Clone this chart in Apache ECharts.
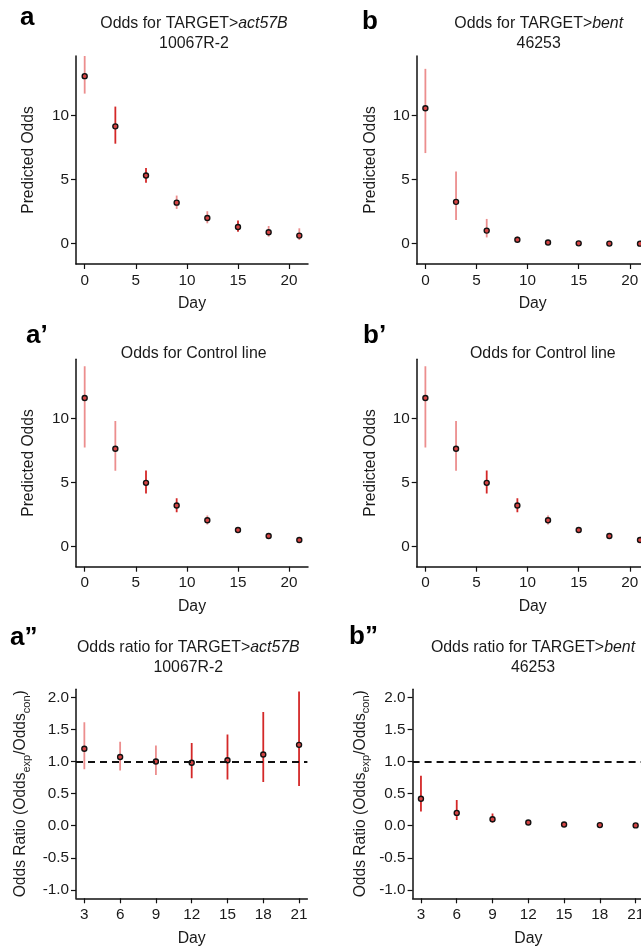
<!DOCTYPE html>
<html>
<head>
<meta charset="utf-8">
<script src="https://cdn.jsdelivr.net/npm/echarts@6/dist/echarts.min.js"></script>
<style>
html,body{margin:0;padding:0;background:#fff;}
#chart{width:641px;height:948px;}
</style>
</head>
<body>
<div id="chart"></div>
<script>
// ---------- data ----------
const days = [0, 3, 6, 9, 12, 15, 18, 21];
const ratioDays = [3, 6, 9, 12, 15, 18, 21];

const oddsAct57B = [13.05, 9.14, 5.31, 3.20, 2.00, 1.30, 0.89, 0.63];
const lowAct57B  = [11.69, 7.79, 4.74, 2.71, 1.59, 0.94, 0.55, 0.29];
const highAct57B = [14.80, 10.68, 5.89, 3.75, 2.53, 1.80, 1.38, 1.20];

const oddsBent = [10.55, 3.26, 1.02, 0.31, 0.10, 0.03, 0.01, 0.005];
const lowBent  = [7.06, 1.85, 0.49, 0.18, 0.07, 0.02, 0.005, 0.002];
const highBent = [13.62, 5.63, 1.93, 0.55, 0.14, 0.05, 0.02, 0.01];

const oddsControl = [11.59, 7.62, 4.96, 3.19, 2.04, 1.28, 0.81, 0.50];
const lowControl  = [7.73, 5.90, 4.13, 2.66, 1.70, 1.10, 0.65, 0.45];
const highControl = [14.07, 9.79, 5.93, 3.76, 2.40, 1.49, 0.97, 0.55];

const ratioAct57B     = [1.20, 1.07, 1.00, 0.98, 1.02, 1.11, 1.26];
const ratioLowAct57B  = [0.88, 0.86, 0.79, 0.74, 0.72, 0.68, 0.62];
const ratioHighAct57B = [1.61, 1.31, 1.25, 1.29, 1.42, 1.77, 2.09];

const ratioBent     = [0.42, 0.20, 0.10, 0.05, 0.02, 0.01, 0.005];
const ratioLowBent  = [0.22, 0.09, 0.05, 0.04, 0.015, 0.008, 0.003];
const ratioHighBent = [0.78, 0.40, 0.19, 0.06, 0.03, 0.015, 0.008];

const oddsTicks = [0, 5, 10];
const dayTicks = [0, 5, 10, 15, 20];
const ratioTicks = [-1.0, -0.5, 0.0, 0.5, 1.0, 1.5, 2.0];
const ratioDayTicks = [3, 6, 9, 12, 15, 18, 21];
const referenceRatio = 1.0;

// error-bar shading (style, separate from data)
const shadeAct57B  = ['pale', 'solid', 'solid', 'pale', 'pale', 'solid', 'pale', 'pale'];
const shadeBent    = ['pale', 'pale', 'pale', 'solid', 'solid', 'solid', 'solid', 'solid'];
const shadeControl = ['pale', 'pale', 'solid', 'solid', 'pale', 'pale', 'solid', 'solid'];
const shadeRatioA  = ['pale', 'pale', 'pale', 'solid', 'solid', 'solid', 'solid'];
const shadeRatioB  = ['solid', 'solid', 'solid', 'solid', 'solid', 'solid', 'solid'];

// ---------- styling ----------
const FONT = '"Liberation Sans", Arial, Helvetica, sans-serif';
const TXT = '#1a1a1a';
const SHADE = { pale: '#ec8e8e', solid: '#d42828' };

const panels = [
  { grid: { left: 76, top: 56, width: 232, height: 208 }, x: days, val: oddsAct57B, lo: lowAct57B, hi: highAct57B, shade: shadeAct57B,
    xr: [-0.85, 21.85], yr: [-1.58, 14.62], xt: dayTicks, yt: oddsTicks, yName: 'Predicted Odds', nameGap: 38, ratio: false },
  { grid: { left: 416.7, top: 56, width: 232, height: 208 }, x: days, val: oddsBent, lo: lowBent, hi: highBent, shade: shadeBent,
    xr: [-0.85, 21.85], yr: [-1.58, 14.62], xt: dayTicks, yt: oddsTicks, yName: 'Predicted Odds', nameGap: 37, ratio: false },
  { grid: { left: 76, top: 359.3, width: 232, height: 207.4 }, x: days, val: oddsControl, lo: lowControl, hi: highControl, shade: shadeControl,
    xr: [-0.85, 21.85], yr: [-1.59, 14.61], xt: dayTicks, yt: oddsTicks, yName: 'Predicted Odds', nameGap: 38, ratio: false },
  { grid: { left: 416.7, top: 359.3, width: 232, height: 207.4 }, x: days, val: oddsControl, lo: lowControl, hi: highControl, shade: shadeControl,
    xr: [-0.85, 21.85], yr: [-1.59, 14.61], xt: dayTicks, yt: oddsTicks, yName: 'Predicted Odds', nameGap: 37, ratio: false },
  { grid: { left: 76, top: 689.3, width: 231.4, height: 209 }, x: ratioDays, val: ratioAct57B, lo: ratioLowAct57B, hi: ratioHighAct57B, shade: shadeRatioA,
    xr: [2.3, 21.7], yr: [-1.13, 2.125], xt: ratioDayTicks, yt: ratioTicks, yName: 'Odds Ratio (Odds{s|exp}/Odds{s|con})', nameGap: 44, ratio: true },
  { grid: { left: 412.6, top: 689.3, width: 231.4, height: 209 }, x: ratioDays, val: ratioBent, lo: ratioLowBent, hi: ratioHighBent, shade: shadeRatioB,
    xr: [2.3, 21.7], yr: [-1.13, 2.125], xt: ratioDayTicks, yt: ratioTicks, yName: 'Odds Ratio (Odds{s|exp}/Odds{s|con})', nameGap: 41, ratio: true }
];

const grids = [], xAxes = [], yAxes = [], series = [];
panels.forEach((p, i) => {
  grids.push(Object.assign({ outerBoundsMode: 'none', containLabel: false }, p.grid));
  const axisLine = { show: true, onZero: false, lineStyle: { color: '#111', width: 1.5 } };
  const axisTickBase = { show: true, length: 5, lineStyle: { color: '#111', width: 1.2 } };
  xAxes.push({
    type: 'value', gridIndex: i, min: p.xr[0], max: p.xr[1],
    axisLine: axisLine,
    axisTick: Object.assign({ customValues: p.xt }, axisTickBase),
    axisLabel: { customValues: p.xt, fontSize: 15.3, fontFamily: FONT, color: TXT, margin: 9 },
    splitLine: { show: false },
    name: 'Day', nameLocation: 'middle', nameGap: 31,
    nameTextStyle: { fontSize: 15.8, fontFamily: FONT, color: TXT, lineHeight: 18 }
  });
  yAxes.push({
    type: 'value', gridIndex: i, min: p.yr[0], max: p.yr[1],
    axisLine: axisLine,
    axisTick: Object.assign({ customValues: p.yt }, axisTickBase),
    axisLabel: {
      customValues: p.yt, fontSize: 15.3, fontFamily: FONT, color: TXT, margin: 7,
      formatter: p.ratio ? (v => v.toFixed(1)) : (v => String(v))
    },
    splitLine: { show: false },
    name: p.yName, nameLocation: 'middle', nameGap: p.nameGap, nameRotate: 90,
    nameTextStyle: {
      fontSize: 15.6, fontFamily: FONT, color: TXT, lineHeight: p.ratio ? 22 : 18,
      rich: { s: { fontSize: 11, fontFamily: FONT, color: TXT, verticalAlign: 'bottom', lineHeight: 22 } }
    }
  });
  const shade = p.shade;
  series.push({
    type: 'custom', xAxisIndex: i, yAxisIndex: i, clip: true, z: 2,
    data: p.x.map((d, k) => [d, p.lo[k], p.hi[k]]),
    renderItem: (params, api) => {
      const a = api.coord([api.value(0), api.value(1)]);
      const b = api.coord([api.value(0), api.value(2)]);
      return {
        type: 'line',
        shape: { x1: a[0], y1: a[1], x2: b[0], y2: b[1] },
        style: { stroke: SHADE[shade[params.dataIndex]], lineWidth: 1.8 }
      };
    }
  });
  const sc = {
    type: 'scatter', xAxisIndex: i, yAxisIndex: i, z: 3,
    data: p.x.map((d, k) => [d, p.val[k]]),
    symbol: 'circle', symbolSize: 5,
    itemStyle: { color: '#d64545', borderColor: '#111', borderWidth: 1.4, opacity: 1 }
  };
  if (p.ratio) {
    sc.markLine = {
      silent: true, symbol: ['none', 'none'], animation: false,
      label: { show: false },
      lineStyle: { color: '#111', width: 2, type: [7, 5] },
      data: [{ yAxis: referenceRatio }]
    };
  }
  series.push(sc);
});

// titles & panel letters
const titleRich = {
  n: { fontSize: 15.9, fontFamily: FONT, fill: TXT, lineHeight: 20 },
  i: { fontSize: 15.9, fontFamily: FONT, fill: TXT, lineHeight: 20, fontStyle: 'italic' }
};
const titles = [
  { x: 194, y: 14, text: '{n|Odds for TARGET>}{i|act57B}\n{n|10067R-2}' },
  { x: 538.7, y: 14, text: '{n|Odds for TARGET>}{i|bent}\n{n|46253}' },
  { x: 193.7, y: 344, text: '{n|Odds for Control line}' },
  { x: 542.8, y: 344, text: '{n|Odds for Control line}' },
  { x: 188.3, y: 638, text: '{n|Odds ratio for TARGET>}{i|act57B}\n{n|10067R-2}' },
  { x: 533, y: 638, text: '{n|Odds ratio for TARGET>}{i|bent}\n{n|46253}' }
];
const letters = [
  { x: 20, y: 17.7, t: 'a' },
  { x: 362, y: 21.7, t: 'b' },
  { x: 26, y: 336, t: 'a\u2019' },
  { x: 363, y: 336, t: 'b\u2019' },
  { x: 10, y: 637.7, t: 'a\u201D' },
  { x: 349, y: 637, t: 'b\u201D' }
];
const graphics = [];
titles.forEach(t => graphics.push({
  type: 'text', x: t.x, y: t.y, silent: true,
  style: { text: t.text, rich: titleRich, align: 'center', verticalAlign: 'top', fontSize: 15.9, fontFamily: FONT, fill: TXT }
}));
letters.forEach(l => graphics.push({
  type: 'text', x: l.x, y: l.y, silent: true,
  style: { text: l.t, fontSize: 26, fontWeight: 'bold', fontFamily: FONT, fill: '#000', align: 'left', verticalAlign: 'middle' }
}));

const chart = echarts.init(document.getElementById('chart'), null, { renderer: 'canvas' });
chart.setOption({
  animation: false,
  backgroundColor: '#fff',
  grid: grids,
  xAxis: xAxes,
  yAxis: yAxes,
  series: series,
  graphic: graphics
});
</script>
</body>
</html>
